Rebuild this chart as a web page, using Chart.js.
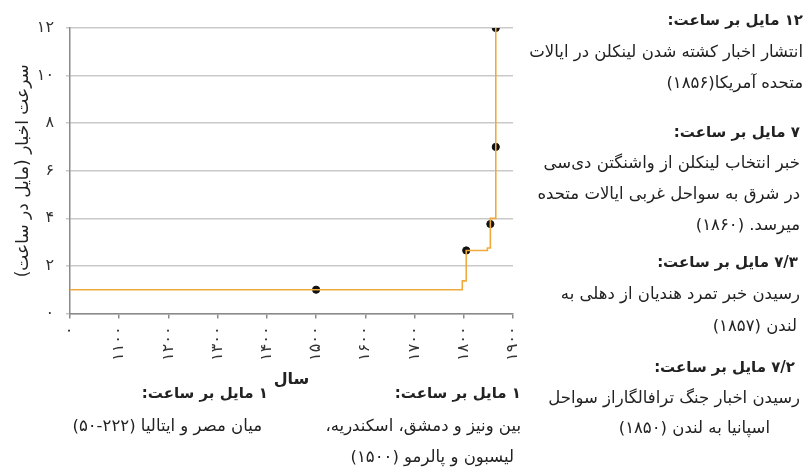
<!DOCTYPE html>
<html>
<head>
<meta charset="utf-8">
<title>سرعت اخبار</title>
<script src="https://cdn.jsdelivr.net/npm/chart.js@4.4.0/dist/chart.umd.js"></script>
<style>
  html, body {
    margin: 0;
    padding: 0;
    background: #fff;
  }
  #wrap {
    position: relative;
    width: 810px;
    height: 476px;
    overflow: hidden;
    font-family: "DejaVu Sans", sans-serif;
    color: #222;
  }
  #chart {
    position: absolute;
    left: 0;
    top: 0;
    direction: rtl;
  }
  .note {
    position: absolute;
    direction: rtl;
    text-align: right;
    white-space: nowrap;
    font-size: 16.5px;
    line-height: 22px;
  }
  .note.head {
    font-weight: bold;
    font-size: 15px;
  }
</style>
</head>
<body>
<div id="wrap">
  <canvas id="chart" width="810" height="476"></canvas>
</div>

<script>
// step line
const stepYears = [1000, 1797, 1797, 1805, 1805, 1848, 1848, 1854, 1854, 1865, 1865];
const stepSpeeds = [1, 1, 1.37, 1.37, 2.65, 2.65, 2.75, 2.75, 4, 4, 12];

// marked events
const eventYears = [1500, 1805, 1854, 1865, 1865];
const eventSpeeds = [1, 2.65, 3.76, 7, 12];

// tick labels
const xTickValues = [1000, 1100, 1200, 1300, 1400, 1500, 1600, 1700, 1800, 1900];
const xTickLabels = ['۰', '۱۱۰۰', '۱۲۰۰', '۱۳۰۰', '۱۴۰۰', '۱۵۰۰', '۱۶۰۰', '۱۷۰۰', '۱۸۰۰', '۱۹۰۰'];
const yTickValues = [0, 2, 4, 6, 8, 10, 12];
const yTickLabels = ['۰', '۲', '۴', '۶', '۸', '۱۰', '۱۲'];

const xTitle = 'سال';
const yTitle = '\u200Fسرعت اخبار (مایل در ساعت)\u200F';

// annotation texts: [text, bold, right edge, centre y]
const notes = [
  ['۱۲ مایل بر ساعت:', true, 7, 20],
  ['انتشار اخبار کشته شدن لینکلن در ایالات', false, 7, 52],
  ['متحده آمریکا(۱۸۵۶)', false, 7, 83],
  ['۷ مایل بر ساعت:', true, 10, 132],
  ['خبر انتخاب لینکلن از واشنگتن دی‌سی', false, 10, 163],
  ['در شرق به سواحل غربی ایالات متحده', false, 10, 194],
  ['میرسد. (۱۸۶۰)', false, 10, 225],
  ['۷/۳ مایل بر ساعت:', true, 12, 262],
  ['رسیدن خبر تمرد هندیان از دهلی به', false, 10, 294],
  ['لندن (۱۸۵۷)', false, 13, 326],
  ['۷/۲ مایل بر ساعت:', true, 15, 367],
  ['رسیدن اخبار جنگ ترافالگاراز سواحل', false, 10, 398],
  ['اسپانیا به لندن (۱۸۵۰)', false, 40, 428],
  ['۱ مایل بر ساعت:', true, 542, 393],
  ['میان مصر و ایتالیا (۲۲۲-۵۰)', false, 548, 426],
  ['۱ مایل بر ساعت:', true, 289, 393],
  ['بین ونیز و دمشق، اسکندریه،', false, 289, 426],
  ['لیسبون و پالرمو (۱۵۰۰)', false, 296, 457],
];

const wrap = document.getElementById('wrap');
notes.forEach(([text, bold, right, cy]) => {
  const div = document.createElement('div');
  div.className = bold ? 'note head' : 'note';
  div.textContent = text;
  div.style.right = right + 'px';
  div.style.top = (cy - 11) + 'px';
  wrap.appendChild(div);
});

const AXIS_COLOR = '#8a8a8a';
const GRID_COLOR = '#c9c9c9';
const LINE_COLOR = '#f0aa3c';

new Chart(document.getElementById('chart'), {
  type: 'line',
  data: {
    datasets: [
      {
        label: 'step',
        data: stepYears.map((x, i) => ({ x, y: stepSpeeds[i] })),
        borderColor: LINE_COLOR,
        borderWidth: 1.6,
        pointRadius: 0,
        tension: 0,
        fill: false,
      },
      {
        label: 'events',
        type: 'scatter',
        data: eventYears.map((x, i) => ({ x, y: eventSpeeds[i] })),
        backgroundColor: '#111',
        borderColor: '#111',
        pointRadius: 3.6,
        pointHoverRadius: 3.6,
      },
    ],
  },
  options: {
    responsive: false,
    animation: false,
    devicePixelRatio: 1,
    layout: {
      padding: { left: 0, top: 28, right: 297, bottom: 0 },
    },
    plugins: {
      legend: { display: false },
      tooltip: { enabled: false },
    },
    scales: {
      x: {
        type: 'linear',
        min: 1000,
        max: 1900,
        afterFit: scale => { scale.height = 162.5; },
        afterBuildTicks: scale => {
          scale.ticks = xTickValues.map(v => ({ value: v }));
        },
        ticks: {
          minRotation: 90,
          maxRotation: 90,
          autoSkip: false,
          padding: 8,
          color: '#333',
          font: { family: 'DejaVu Sans', size: 16 },
          callback: v => xTickLabels[xTickValues.indexOf(v)],
        },
        grid: {
          drawOnChartArea: false,
          color: AXIS_COLOR,
          lineWidth: 1.5,
          tickLength: 5,
        },
        border: { color: AXIS_COLOR, width: 1.5 },
        title: {
          display: true,
          text: xTitle,
          color: '#222',
          font: { family: 'DejaVu Sans', size: 16, weight: 'bold' },
          padding: { top: 0, bottom: 87 },
        },
      },
      y: {
        min: 0,
        max: 12,
        afterFit: scale => { scale.width = 70; },
        afterBuildTicks: scale => {
          scale.ticks = yTickValues.map(v => ({ value: v }));
        },
        ticks: {
          padding: 12,
          color: '#333',
          font: { family: 'DejaVu Sans', size: 16 },
          callback: v => yTickLabels[yTickValues.indexOf(v)],
        },
        grid: {
          color: GRID_COLOR,
          lineWidth: 1.5,
          tickLength: 4,
        },
        border: { color: AXIS_COLOR, width: 1.5 },
        title: {
          display: true,
          text: yTitle,
          color: '#222',
          font: { family: 'DejaVu Sans', size: 17 },
          padding: { top: 13, bottom: 0 },
        },
      },
    },
  },
});
</script>
</body>
</html>
